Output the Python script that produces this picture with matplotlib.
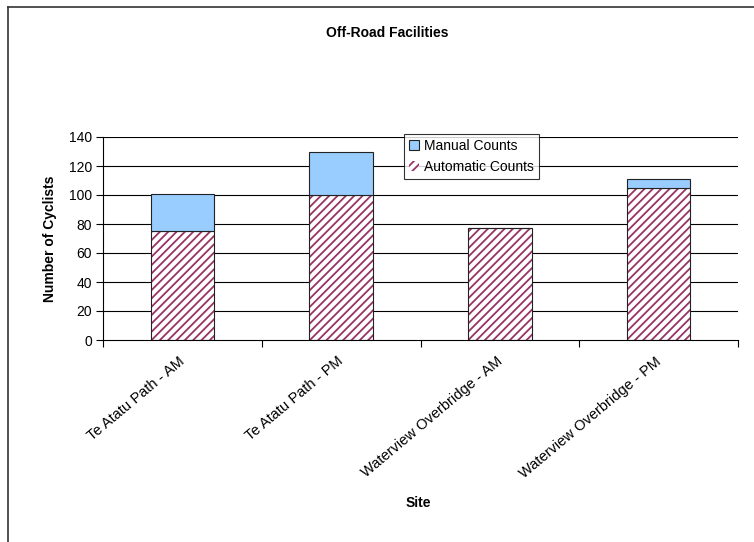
import numpy as np
import matplotlib.pyplot as plt
import matplotlib.transforms as mtransforms
from matplotlib.lines import Line2D

plt.rcParams['font.family'] = ['Liberation Sans', 'DejaVu Sans']
plt.rcParams['hatch.linewidth'] = 1.3

# counts per site
sites = ["Te Atatu Path - AM", "Te Atatu Path - PM",
         "Waterview Overbridge - AM", "Waterview Overbridge - PM"]
automatic = [75, 100, 77, 105]
manual = [26, 30, 0, 6]
y_ticks = [0, 20, 40, 60, 80, 100, 120, 140]

fig = plt.figure(figsize=(7.54, 5.42), dpi=100)
ax = fig.add_axes([103 / 754, 1 - 340 / 542, 635 / 754, 203 / 542])

x = np.arange(len(sites))
w = 0.4

# horizontal gridlines behind the bars
for t in y_ticks[1:]:
    ax.axhline(t, color='black', lw=0.8, zorder=0)

auto_bars = ax.bar(x, automatic, w, color='white', edgecolor='#993366',
                   hatch='////', lw=0, zorder=2, label='Automatic Counts')
ax.bar(x, automatic, w, fill=False, edgecolor='#222222', lw=0.8, zorder=3)
man_bars = ax.bar(x, manual, w, bottom=automatic, color='#99CCFF',
                  edgecolor='#222222', lw=0.8, zorder=3, label='Manual Counts')

ax.set_xlim(-0.5, len(sites) - 0.5)
ax.set_ylim(0, 140)
ax.set_yticks(y_ticks)
ax.tick_params(axis='y', length=5, width=0.8, labelsize=10, pad=3)

# labels at category centres, tick marks between categories
ax.set_xticks(x)
ax.set_xticklabels(sites, rotation=40, ha='right', rotation_mode='anchor',
                   fontsize=10.5)
ax.tick_params(axis='x', which='major', length=0, pad=8)
ax.set_xticks(np.arange(-0.5, len(sites), 1.0), minor=True)
ax.tick_params(axis='x', which='minor', length=5, width=0.8)
shift = mtransforms.ScaledTranslation(-0.04, -0.03, fig.dpi_scale_trans)
for lbl in ax.get_xticklabels():
    lbl.set_transform(lbl.get_transform() + shift)

for s in ['top', 'right']:
    ax.spines[s].set_visible(False)
for s in ['left', 'bottom']:
    ax.spines[s].set_linewidth(0.8)

leg = ax.legend([man_bars, auto_bars], ['Manual Counts', 'Automatic Counts'],
                loc='upper left', bbox_to_anchor=(0.474, 1.015),
                fontsize=10, frameon=True, fancybox=False, shadow=False,
                handlelength=0.7, handleheight=0.7, handletextpad=0.4,
                borderpad=0.35, labelspacing=0.5, borderaxespad=0)
leg.get_frame().set_edgecolor('black')
leg.get_frame().set_linewidth(0.8)
leg.set_zorder(5)

fig.text(387 / 754, 1 - 33 / 542, 'Off-Road Facilities', ha='center',
         va='center', fontsize=10, fontweight='bold')
fig.text(50 / 754, 1 - 239 / 542, 'Number of Cyclists', ha='center',
         va='center', rotation=90, fontsize=10, fontweight='bold')
fig.text(418 / 754, 1 - 503 / 542, 'Site', ha='center', va='center',
         fontsize=10, fontweight='bold')

# outer chart frame (top and left edges)
fig.add_artist(Line2D([8 / 754, 1.0], [1 - 7 / 542] * 2, color='#333333', lw=1.2))
fig.add_artist(Line2D([8 / 754] * 2, [0.0, 1 - 7 / 542], color='#333333', lw=1.2))

fig.savefig('out.png', dpi=100)
